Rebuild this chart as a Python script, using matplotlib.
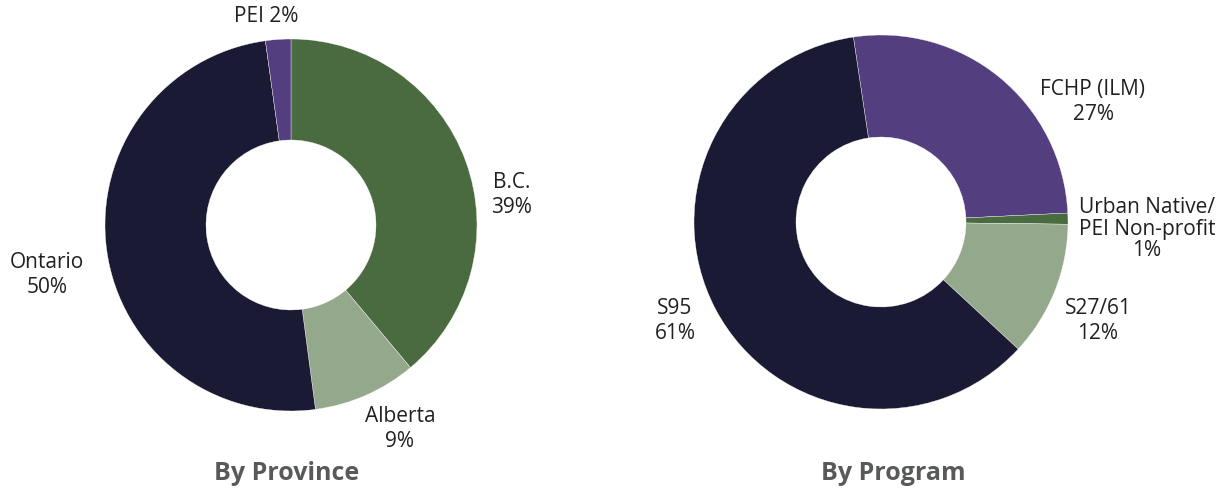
import matplotlib
matplotlib.use("Agg")
import matplotlib.pyplot as plt

# Data
prov_labels = ["B.C.", "Alberta", "Ontario", "PEI"]
prov_values = [38.9, 9.0, 49.9, 2.2]
prov_pct = ["39%", "9%", "50%", "2%"]

prog_labels = ["FCHP (ILM)", "Urban Native/\nPEI Non-profit", "S27/61", "S95"]
prog_values = [26.6, 0.95, 11.7, 60.75]
prog_pct = ["27%", "1%", "12%", "61%"]

prov_colors = ["#496B3F", "#94A88C", "#1B1A35", "#533E7F"]
prog_colors = ["#533E7F", "#496B3F", "#94A88C", "#1B1A35"]

W, H = 1227, 491
fig = plt.figure(figsize=(W / 100, H / 100), dpi=100)
plt.rcParams['font.family'] = ['Open Sans', 'DejaVu Sans']

def px(x, y):
    return x / W, 1 - y / H

def donut(cx, cy, r, values, colors, start):
    ax = fig.add_axes([(cx - r) / W, (H - cy - r) / H, 2 * r / W, 2 * r / H])
    ax.pie(values, colors=colors, startangle=start, counterclock=False,
           radius=1.0, wedgeprops=dict(width=1 - 85 / r, edgecolor='white', linewidth=0.25))
    ax.set_xlim(-1, 1)
    ax.set_ylim(-1, 1)
    ax.set_aspect('equal')
    ax.axis('off')
    return ax

donut(291, 225, 186, prov_values, prov_colors, 90)
donut(881, 222, 187, prog_values, prog_colors, 98.5)

tc = "#231F20"
fs = 15
ls = 1.2
# Province labels
fig.text(*px(512, 195), f"{prov_labels[0]}\n{prov_pct[0]}", ha='center', va='center', fontsize=fs, color=tc, linespacing=ls)
fig.text(*px(400, 429), f"{prov_labels[1]}\n{prov_pct[1]}", ha='center', va='center', fontsize=fs, color=tc, linespacing=ls)
fig.text(*px(47, 275), f"{prov_labels[2]}\n{prov_pct[2]}", ha='center', va='center', fontsize=fs, color=tc, linespacing=ls)
fig.text(*px(266, 17), f"{prov_labels[3]} {prov_pct[3]}", ha='center', va='center', fontsize=fs, color=tc)

# Program labels
fig.text(*px(1093, 102), f"{prog_labels[0]}\n{prog_pct[0]}", ha='center', va='center', fontsize=fs, color=tc, linespacing=ls)
fig.text(*px(1147, 229), f"{prog_labels[1]}\n{prog_pct[1]}", ha='center', va='center', fontsize=fs, color=tc, linespacing=1.05)
fig.text(*px(1098, 321), f"{prog_labels[2]}\n{prog_pct[2]}", ha='center', va='center', fontsize=fs, color=tc, linespacing=ls)
fig.text(*px(675, 321), f"{prog_labels[3]}\n{prog_pct[3]}", ha='center', va='center', fontsize=fs, color=tc, linespacing=ls)

# Titles
fig.text(*px(287, 474), "By Province", ha='center', va='center', fontsize=18, fontweight='bold', color="#58595B")
fig.text(*px(893, 474), "By Program", ha='center', va='center', fontsize=18, fontweight='bold', color="#58595B")

fig.savefig("out.png", dpi=100)
